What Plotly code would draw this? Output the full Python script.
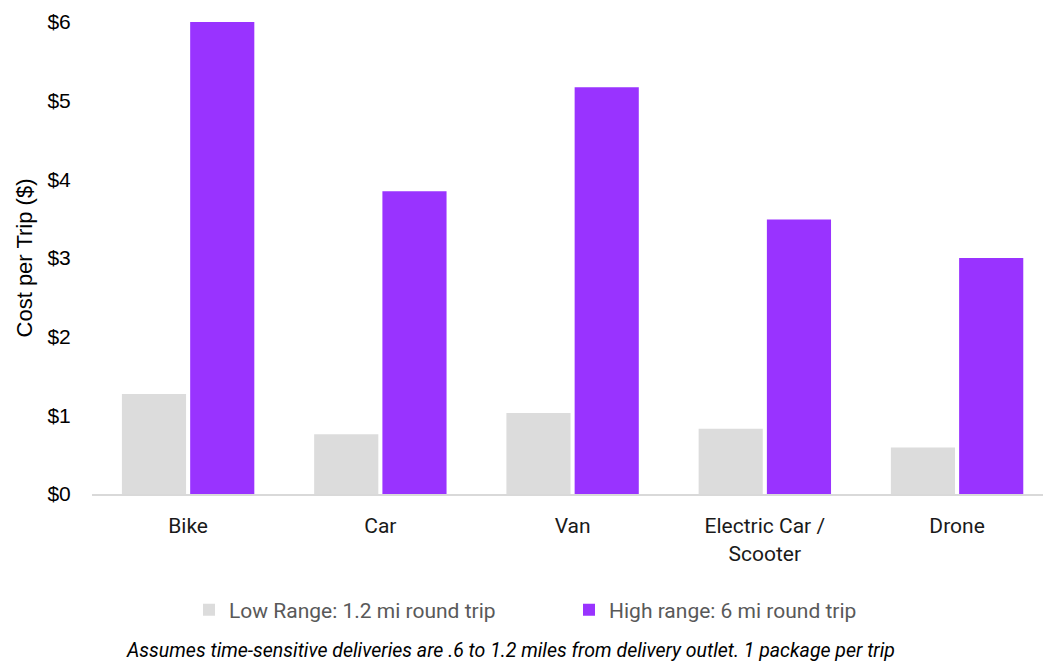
import plotly.graph_objects as go

categories = ["Bike", "Car", "Van", "Electric Car /<br>Scooter", "Drone"]
low_values = [1.27, 0.76, 1.03, 0.83, 0.59]
high_values = [6.0, 3.85, 5.17, 3.49, 3.0]
low_name = "Low Range: 1.2 mi round trip"
high_name = "High range: 6 mi round trip"
y_tickvals = [0, 1, 2, 3, 4, 5, 6]
y_ticktext = ["$0", "$1", "$2", "$3", "$4", "$5", "$6"]
footnote = "Assumes time-sensitive deliveries are .6 to 1.2 miles from delivery outlet. 1 package per trip"

fig = go.Figure()
fig.add_trace(go.Bar(x=categories, y=low_values, name=low_name,
                     marker=dict(color="#dcdcdc", line=dict(width=0))))
fig.add_trace(go.Bar(x=categories, y=high_values, name=high_name,
                     marker=dict(color="#9933ff", line=dict(width=0))))

fig.update_layout(
    width=1043, height=662,
    margin=dict(l=92, r=0, t=22, b=168, autoexpand=False),
    paper_bgcolor="white", plot_bgcolor="white",
    barmode="group", bargap=0.29, bargroupgap=0.06,
    font=dict(family="Liberation Sans, Arial", color="#000000"),
    showlegend=True,
    legend=dict(orientation="h", xref="container", yref="container",
                x=189 / 1043, xanchor="left", y=1 - 610 / 662, yanchor="middle",
                entrywidth=335, entrywidthmode="pixels",
                font=dict(family="Roboto", size=21, color="#595959"),
                traceorder="normal"),
    xaxis=dict(range=[-0.5, 4.447], showgrid=False, showline=True,
               linecolor="#d9d9d9", linewidth=2, ticks="outside", ticklen=12,
               tickcolor="rgba(0,0,0,0)",
               tickfont=dict(family="Roboto", size=21, color="#1a1a1a")),
    yaxis=dict(range=[0, 6], tickvals=y_tickvals, ticktext=y_ticktext,
               showgrid=False, zeroline=False, showline=False,
               ticks="outside", ticklen=16, tickcolor="rgba(0,0,0,0)",
               tickfont=dict(family="Liberation Sans, Arial", size=21, color="#000000"),
               title=dict(text="Cost per Trip ($)", standoff=8,
                          font=dict(family="Liberation Sans, Arial", size=22, color="#000000"))),
    annotations=[dict(text=footnote, xref="paper", yref="paper",
                      x=(510 - 92) / 951, y=-(650 - 494) / 472,
                      xanchor="center", yanchor="middle", showarrow=False,
                      font=dict(family="Roboto", size=19.5, color="#000000", style="italic"))],
)

fig.write_html("out.html", post_script="document.body.style.margin='0';",
               config={"displayModeBar": False})
